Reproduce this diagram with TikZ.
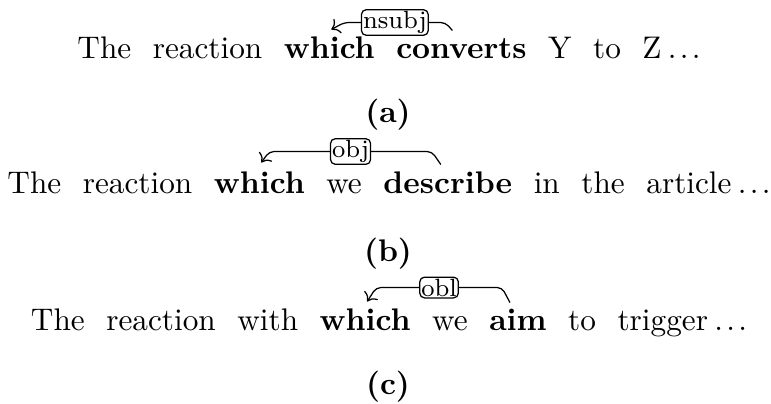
\documentclass[tikz,border=0pt]{standalone}
\usetikzlibrary{matrix,calc,arrows.meta}
\newcommand\mydots{\kern2pt.\kern1.07pt.\kern1.07pt.}
\begin{document}
\begin{tikzpicture}[x=0.32pt,y=-0.32pt,
  sent/.style={matrix of nodes, ampersand replacement=\&, column sep=6.9pt, inner sep=0pt,
    nodes={inner sep=0pt, text height=7pt, text depth=2pt, anchor=base}},
  dep/.style={->, line width=0.4pt, rounded corners=1.5pt},
  lbl/.style={draw, fill=white, rounded corners=1.5pt, inner sep=0.5pt, font=\footnotesize, line width=0.4pt},
  captext/.style={font=\bfseries, inner sep=0pt}]
\useasboundingbox (0,0) rectangle (771,403);
% row (a)
\matrix (ra) [sent] at (389,50.2) {
  The \& reaction \& \textbf{which} \& \textbf{converts} \& Y \& to \& Z\mydots \\ };
\coordinate (ah) at ($(ra-1-4.north)+(-9,-5)$);
\coordinate (ad) at ($(ra-1-3.north)+(2,-6)$);
\draw[dep] (ah) -- ($(ah)+(-7,-8)$) -- node[lbl]{nsubj} ($(ad)+(13,-7)$) -- (ad);
\node[captext] (capa) at (388,115) {(a)};
% row (b)
\matrix (rb) [sent] at (389,185.2) {
  The \& reaction \& \textbf{which} \& we \& \textbf{describe} \& in \& the \& article\mydots \\ };
\coordinate (bh) at ($(rb-1-5.north)+(-7,-6)$);
\coordinate (bd) at ($(rb-1-3.north)+(2,-8)$);
\draw[dep] (bh) -- ($(bh)+(-9,-13)$) -- node[lbl]{obj} ($(bd)+(8,-11)$) -- (bd);
\node[captext] (capb) at (388,254) {(b)};
% row (c)
\matrix (rc) [sent] at (389,322.2) {
  The \& reaction \& with \& \textbf{which} \& we \& \textbf{aim} \& to \& trigger\mydots \\ };
\coordinate (ch) at ($(rc-1-6.north)+(-8,-5)$);
\coordinate (cd) at ($(rc-1-4.north)+(2,-6)$);
\draw[dep] (ch) -- ($(ch)+(-8,-15)$) -- node[lbl]{obl} ($(cd)+(9,-14)$) -- (cd);
\node[captext] (capc) at (388,387) {(c)};
\end{tikzpicture}
\end{document}
